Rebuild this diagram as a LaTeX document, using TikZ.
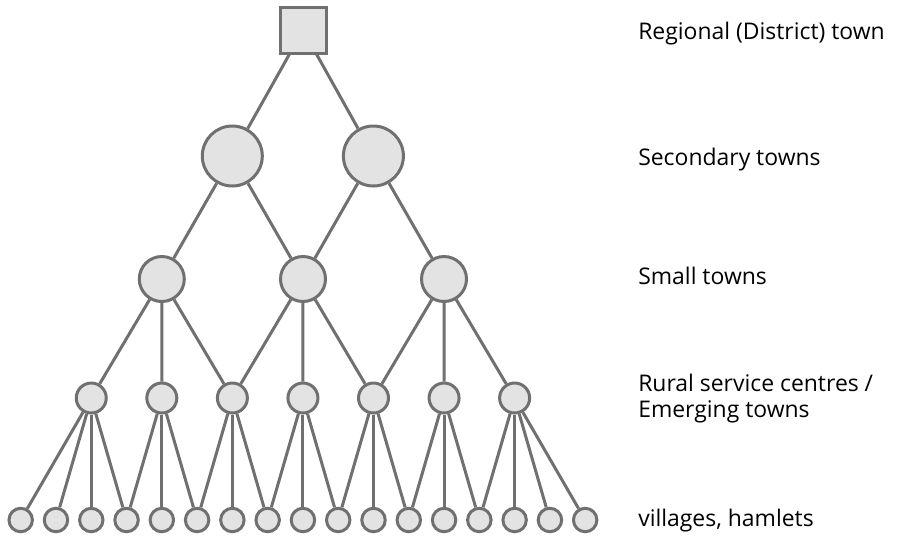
\documentclass[tikz,border=0pt]{standalone}
\usepackage{fontspec}
\setmainfont{Open Sans}
\definecolor{edgegray}{HTML}{707070}
\definecolor{fillgray}{HTML}{E3E3E3}
\definecolor{txt}{HTML}{000000}
\begin{document}
\begin{tikzpicture}[x=0.75pt,y=-0.75pt,
  every node/.style={inner sep=0pt},
  town/.style={circle, draw=edgegray, fill=fillgray, line width=2.25pt, minimum size=#1},
  region/.style={rectangle, draw=edgegray, fill=fillgray, line width=2.25pt, minimum size=34.5pt},
  link/.style={draw=edgegray, line width=2.25pt},
  label/.style={anchor=base west, text=txt, font=\fontsize{17.2}{19.5}\selectfont, align=left}]
\useasboundingbox (0,0) rectangle (898,536);
% villages
\foreach \i in {0,...,16} {
  \node[town=17.6pt] (v\i) at ({20.7+35.28*\i},520) {};
}
% rural service centres
\foreach \j in {0,...,6} {
  \pgfmathsetmacro{\xx}{20.7+35.28*(2+2*\j)}
  \node[town=22.5pt] (r\j) at (\xx,398) {};
}
% small towns
\node[town=33.75pt] (s0) at (161.8,279) {};
\node[town=33.75pt] (s1) at (303,279) {};
\node[town=33.75pt] (s2) at (444,279) {};
% secondary towns
\node[town=45pt] (c0) at (232.3,156) {};
\node[town=45pt] (c1) at (373.4,156) {};
% regional
\node[region] (g) at (303,30) {};
% links
\foreach \a/\b in {g/c0,g/c1,c0/s0,c0/s1,c1/s1,c1/s2,
  s0/r0,s0/r1,s0/r2,s1/r2,s1/r3,s1/r4,s2/r4,s2/r5,s2/r6,
  r0/v0,r0/v1,r0/v2,r0/v3,r1/v3,r1/v4,r1/v5,r2/v5,r2/v6,r2/v7,
  r3/v7,r3/v8,r3/v9,r4/v9,r4/v10,r4/v11,r5/v11,r5/v12,r5/v13,
  r6/v13,r6/v14,r6/v15,r6/v16} {
  \draw[link] (\a) -- (\b);
}
% labels
\node[label] (l0) at (638,39) {Regional (District) town};
\node[label] (l1) at (638,165) {Secondary towns};
\node[label] (l2) at (638,284) {Small towns};
\node[label] (l3) at (638,417.7) {Rural service centres /\\Emerging towns};
\node[label] (l4) at (638,526) {villages, hamlets};
\end{tikzpicture}
\end{document}
